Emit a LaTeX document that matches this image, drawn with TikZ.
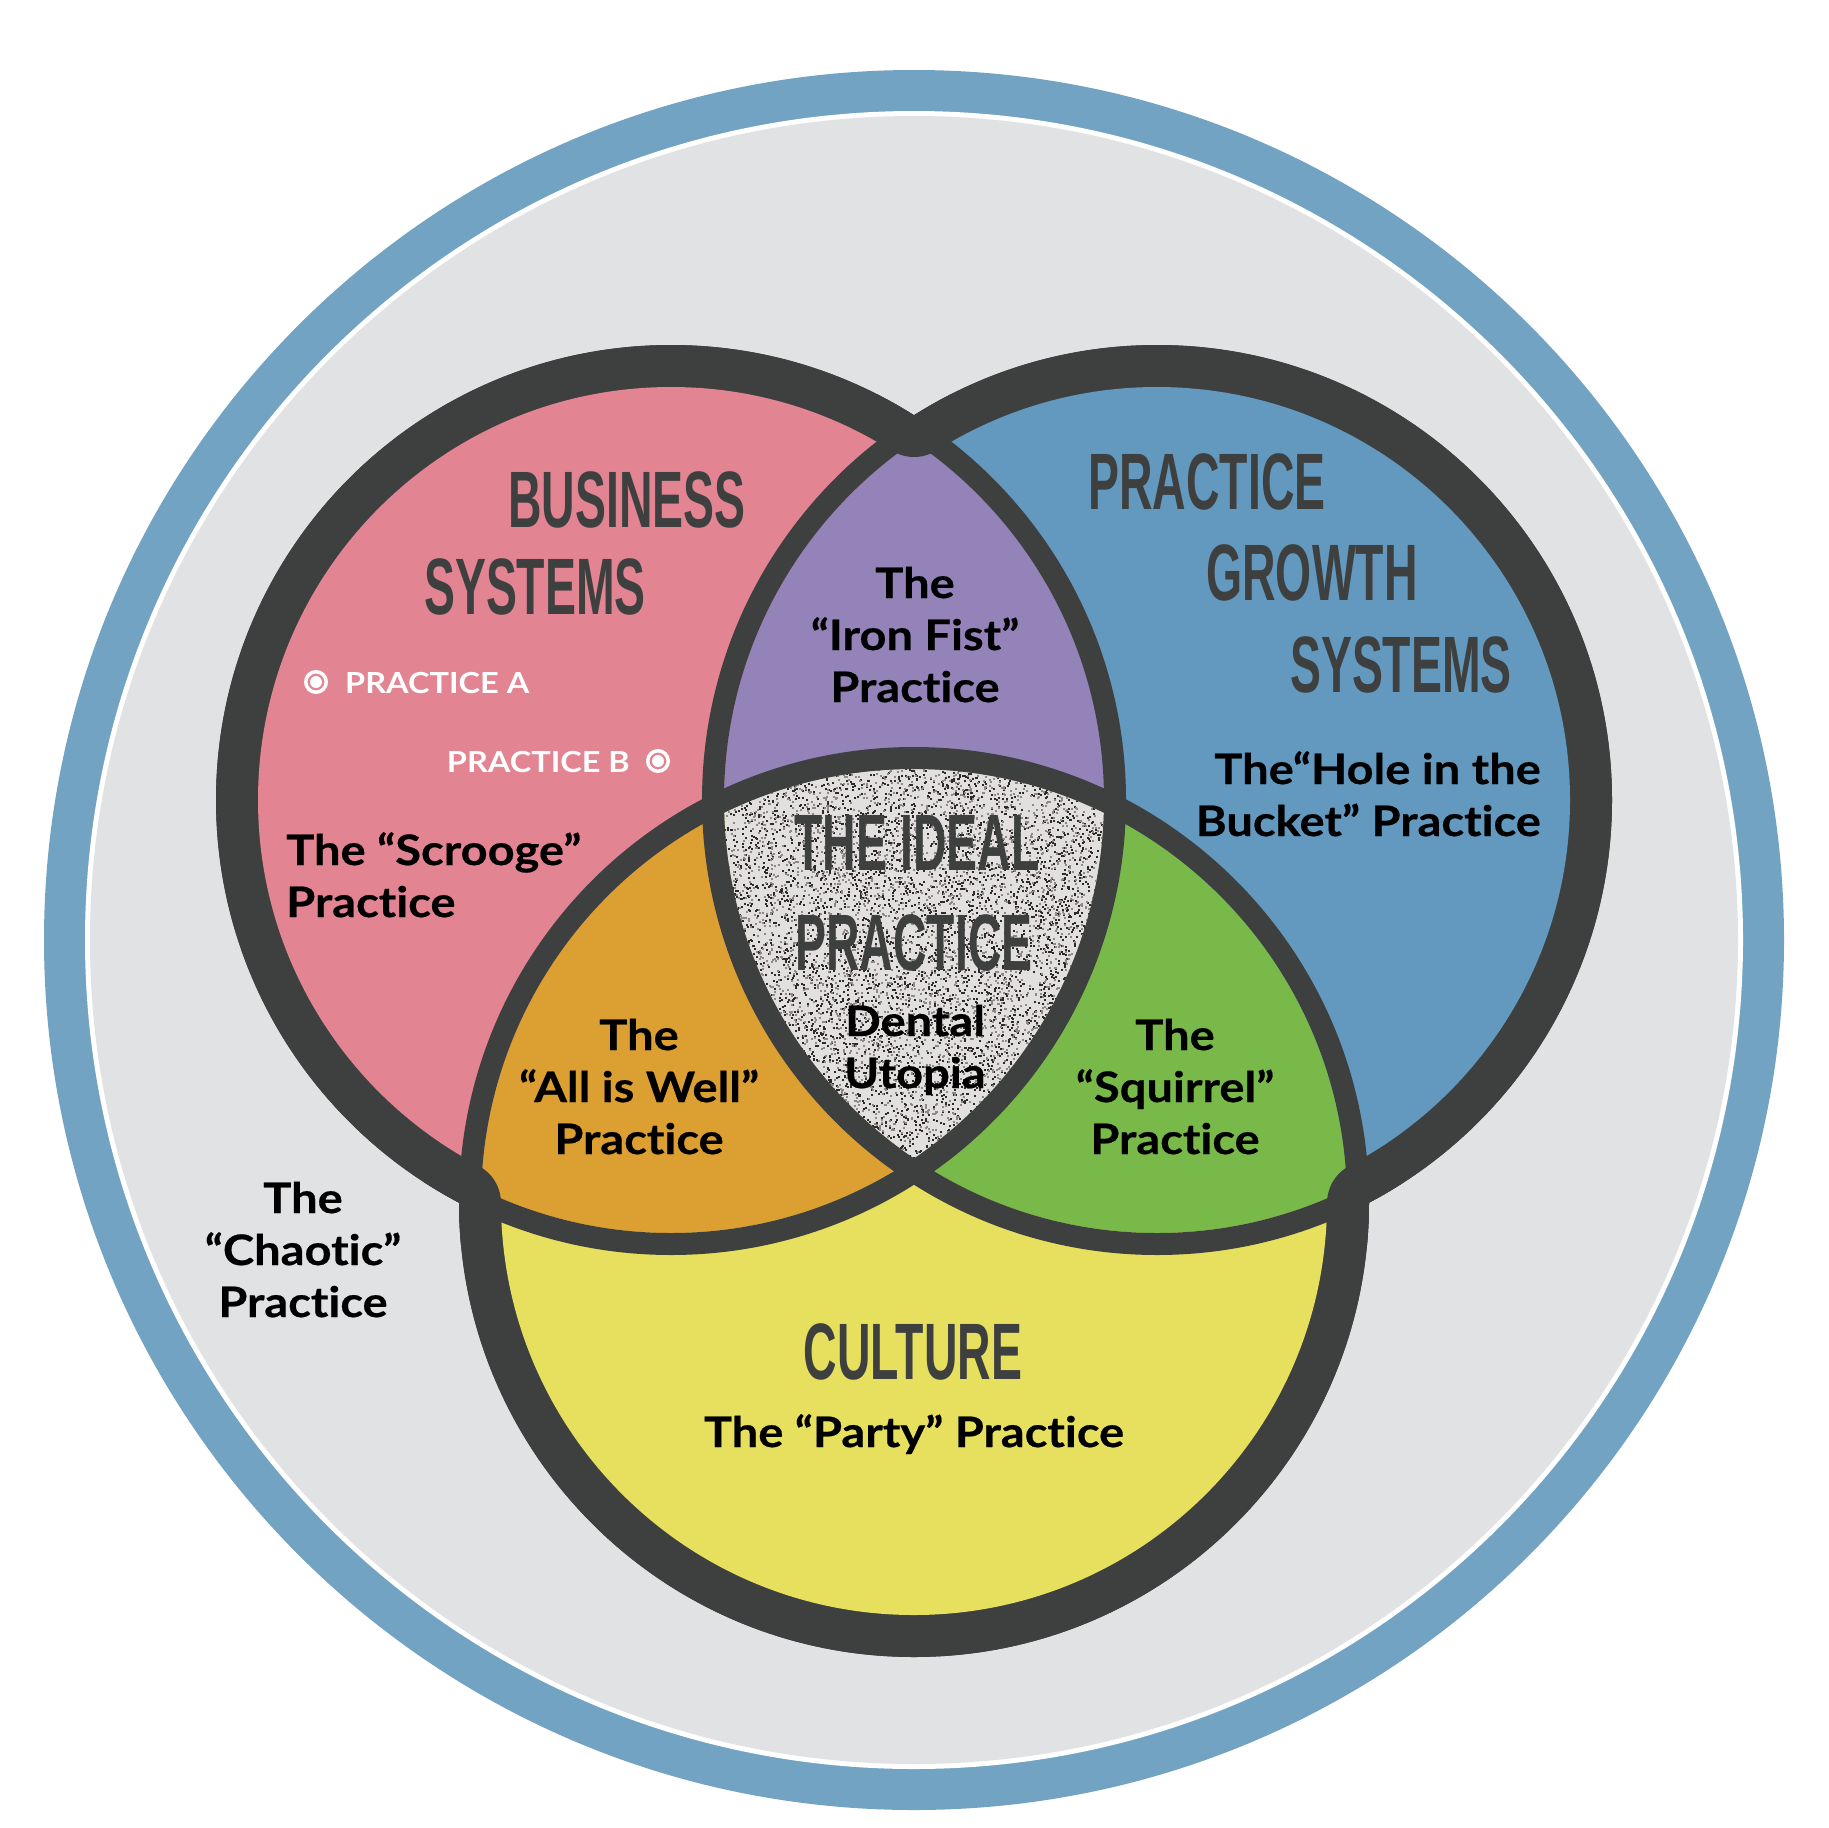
\documentclass[tikz,border=0pt]{standalone}
\usepackage{fontspec}
\newfontfamily\bodyfont{Lato}[FakeStretch=1.12, FakeBold=0.5, Ligatures=NoCommon]
\newfontfamily\tagfont{Lato}[FakeStretch=1.12, Ligatures=NoCommon]
\newfontfamily\titlefont{Liberation Sans}[FakeStretch=0.58]
\definecolor{ringblue}{HTML}{72A3C2}
\definecolor{bggrey}{HTML}{E1E2E4}
\definecolor{darkring}{HTML}{3E4040}
\definecolor{pinkf}{HTML}{E28492}
\definecolor{bluef}{HTML}{6399BE}
\definecolor{yellowf}{HTML}{E6E05E}
\definecolor{purplef}{HTML}{9483B9}
\definecolor{orangef}{HTML}{DC9F32}
\definecolor{greenf}{HTML}{79B94A}
\definecolor{centref}{HTML}{E2DFDF}
\definecolor{speckdark}{HTML}{2E2A2A}
\definecolor{speckgrey}{HTML}{8E8888}
\definecolor{titlegrey}{HTML}{3E4040}
\begin{document}
\begin{tikzpicture}[x=1pt,y=-1pt,
  body/.style={font=\bodyfont\bfseries\fontsize{42}{52}\selectfont, inner sep=0pt, text=black},
  titletext/.style={font=\titlefont\bfseries\fontsize{80}{90}\selectfont, inner sep=0pt, text=titlegrey},
  tagtext/.style={font=\tagfont\bfseries\fontsize{29}{34}\selectfont, inner sep=0pt, text=white},
  marker/.style={circle, draw=white, line width=3.5pt, minimum size=20.5pt, inner sep=0pt},
  bandline/.style={draw=darkring, line width=22pt}]
\fill[white] (0,0) rectangle (1828,1828);
\path[use as bounding box] (0,0) rectangle (1828,1828);
\coordinate (O) at (914,940);
\coordinate (P) at (671,800);
\coordinate (B) at (1157,800);
\coordinate (Y) at (914,1202);
\coordinate (nPB) at (914,415);
\coordinate (nPY) at (459,1203);
\coordinate (nBY) at (1369,1203);
% outer ring
\fill[ringblue] (O) circle (870);
\fill[white] (O) circle (829);
\fill[bggrey] (O) circle (824);
% dark union
\fill[darkring] (P) circle (455);
\fill[darkring] (B) circle (455);
\fill[darkring] (Y) circle (455);
% single-circle fills (thick outer band)
\fill[pinkf] (P) circle (413);
\fill[bluef] (B) circle (413);
\fill[yellowf] (Y) circle (413);
% overlap fills
\begin{scope}
  \clip (P) circle (433);
  \fill[purplef] (B) circle (433);
  \fill[orangef] (Y) circle (433);
\end{scope}
\begin{scope}
  \clip (B) circle (433);
  \fill[greenf] (Y) circle (433);
  \clip (P) circle (433);
  \clip (Y) circle (433);
  \fill[centref] (Y) circle (433);
  \pgfmathsetseed{11}
  \foreach \i in {1,...,6000} {\fill[speckdark] ({715+400*rnd},{760+410*rnd}) rectangle ++(2,2);}
  \foreach \i in {1,...,4500} {\fill[speckgrey] ({715+400*rnd},{760+410*rnd}) rectangle ++(2,2);}
\end{scope}
% interior bands
\draw[bandline] (P) circle (444);
\draw[bandline] (B) circle (444);
\draw[bandline] (Y) circle (444);
% thick joins at the outer crossings, kept inside the union
\begin{scope}
  \clip (P) circle (455) (B) circle (455) (Y) circle (455);
  \fill[darkring] (nPB) circle (42);
  \fill[darkring] (nPY) circle (42);
  \fill[darkring] (nBY) circle (42);
\end{scope}
% titles
\node[titletext, anchor=base] (bus) at (627,527) {BUSINESS};
\node[titletext, anchor=base] (sysp) at (535,614) {SYSTEMS};
\node[titletext, anchor=base] (prac) at (1207,509) {PRACTICE};
\node[titletext, anchor=base] (grow) at (1312,600) {GROWTH};
\node[titletext, anchor=base] (sysb) at (1401,692) {SYSTEMS};
\node[titletext, anchor=base] (ideal1) at (917,870) {THE IDEAL};
\node[titletext, anchor=base] (ideal2) at (914,970) {PRACTICE};
\node[titletext, anchor=base] (cult) at (913,1379) {CULTURE};
% practice markers
\node[marker] (ma) at (316,682) {};
\fill[white] (ma.center) circle (6);
\node[tagtext, anchor=base west] (pa) at (345,693) {PRACTICE A};
\node[marker] (mb) at (658,761) {};
\fill[white] (mb.center) circle (6);
\node[tagtext, anchor=base east] (pb) at (630,772) {PRACTICE B};
% body labels (base anchor = last line baseline)
\node[body, align=center, anchor=base] (iron) at (915,702) {The\\“Iron Fist”\\Practice};
\node[body, align=left, anchor=base west] (scrooge) at (286,917) {The “Scrooge”\\Practice};
\node[body, align=right, anchor=base east] (hole) at (1541,836) {The“Hole in the\\Bucket” Practice};
\node[body, align=center, anchor=base] (well) at (639,1154) {The\\“All is Well”\\Practice};
\node[body, align=center, anchor=base] (dental) at (915,1088) {Dental\\Utopia};
\node[body, align=center, anchor=base] (squirrel) at (1175,1154) {The\\“Squirrel”\\Practice};
\node[body, align=center, anchor=base] (chaotic) at (303,1317) {The\\“Chaotic”\\Practice};
\node[body, anchor=base] (party) at (914,1447) {The “Party” Practice};
\end{tikzpicture}
\end{document}
